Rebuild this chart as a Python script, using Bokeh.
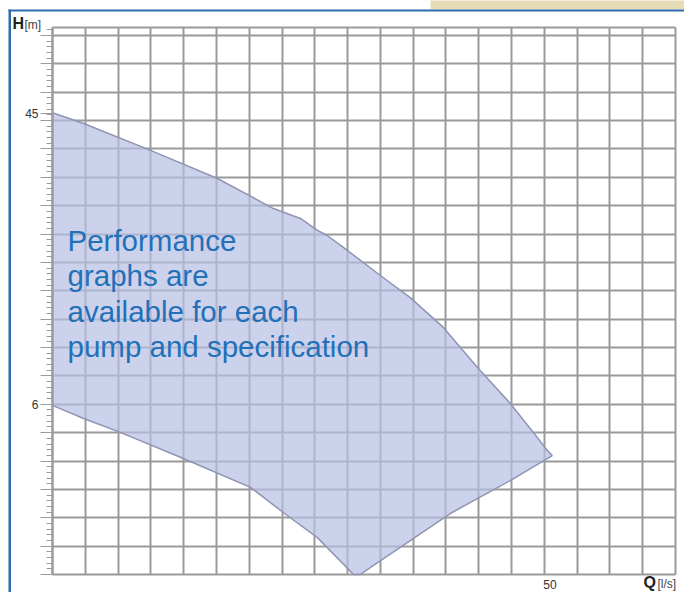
from bokeh.plotting import figure
from bokeh.models import Range1d, FixedTicker, Label, BoxAnnotation
from bokeh.embed import file_html
from bokeh.resources import INLINE

# ---- data (grid units: one unit = one grid cell) ----
upper_q = [0.0, 0.95, 2.99, 5.03, 6.74, 7.56, 8.08, 8.38, 8.87, 10.0, 10.91, 11.92, 12.96, 13.96, 14.67, 15.09, 15.24]
upper_h = [16.28, 15.90, 14.95, 13.96, 12.90, 12.55, 12.13, 11.95, 11.53, 10.54, 9.76, 8.71, 7.30, 6.03, 5.00, 4.37, 4.19]
right_q = [13.96, 12.13, 9.70, 9.39]
right_h = [3.31, 2.15, 0.25, 0.0]
lower_q = [0.0, 0.95, 2.07, 3.99, 6.04, 7.16, 8.08, 9.18]
lower_h = [5.96, 5.50, 5.01, 4.09, 3.07, 2.08, 1.30, 0.0]

grid_q = list(range(0, 20))
grid_h = list(range(0, 20))
top_h = 19.282
y_tick_pos = [6, 16.25]
y_tick_labels = ["6", "45"]
x_tick_pos = [15.17]
x_tick_labels = ["50"]
note_lines = ["Performance", "graphs are", "available for each", "pump and specification"]

GRID = "#9a9a9a"
BLUE = "#2f6cae"
PX_X = 32.79   # pixels per grid unit (x)
PX_Y = 28.368  # pixels per grid unit (y)

p = figure(width=684, height=592, output_backend="svg", toolbar_location=None,
           x_range=Range1d(-52 / PX_X, (684 - 52) / PX_X),
           y_range=Range1d(-18 / PX_Y, 574 / PX_Y),
           min_border=0)
p.background_fill_color = "white"
p.border_fill_color = "white"
p.outline_line_color = None

# grid
p.xgrid.ticker = FixedTicker(ticks=grid_q)
p.xgrid.cross_bounds = (0, top_h)
p.ygrid.ticker = FixedTicker(ticks=grid_h + [top_h])
p.ygrid.cross_bounds = (0, 19)
for g in (p.xgrid, p.ygrid):
    g.grid_line_color = GRID
    g.grid_line_width = 2

xs = upper_q + right_q + lower_q[::-1]
ys = upper_h + right_h + lower_h[::-1]
p.patch(xs, ys, fill_color="#b8bfe4", fill_alpha=0.7, line_color="#8e94b2", line_width=1.5)

# y axis
minor = [i * 0.2 for i in range(0, 97)]
p.yaxis.fixed_location = 0
p.yaxis.bounds = (0, top_h)
p.yaxis.ticker = FixedTicker(ticks=grid_h + [16.25], minor_ticks=minor)
ov = {t: "" for t in grid_h}
ov.update(dict(zip(y_tick_pos, y_tick_labels)))
p.yaxis.major_label_overrides = ov
p.yaxis.axis_line_color = GRID
p.yaxis.axis_line_width = 2
p.yaxis.major_tick_line_color = GRID
p.yaxis.minor_tick_line_color = GRID
p.yaxis.major_tick_out = 12
p.yaxis.major_tick_in = 0
p.yaxis.minor_tick_out = 6
p.yaxis.minor_tick_in = 0
p.yaxis.major_label_standoff = 2
p.yaxis.major_label_text_font = "Liberation Sans"
p.yaxis.major_label_text_font_size = "12px"
p.yaxis.major_label_text_color = "#333333"

# x axis
p.xaxis.fixed_location = 0
p.xaxis.bounds = (0, 19)
p.xaxis.ticker = FixedTicker(ticks=x_tick_pos)
p.xaxis.major_label_overrides = dict(zip(x_tick_pos, x_tick_labels))
p.xaxis.axis_line_color = None
p.xaxis.major_tick_line_color = None
p.xaxis.minor_tick_line_color = None
p.xaxis.major_tick_out = 0
p.xaxis.major_label_standoff = 5
p.xaxis.major_label_text_font = "Liberation Sans"
p.xaxis.major_label_text_font_size = "12px"
p.xaxis.major_label_text_color = "#333333"

# decorations: blue frame and photo strip at the top
p.add_layout(BoxAnnotation(left=(430 - 52) / PX_X, right=20, bottom=(574 - 9) / PX_Y, top=21,
                           fill_color="#e8dcb8", fill_alpha=1, line_color=None))
p.add_layout(BoxAnnotation(left=(8 - 52) / PX_X, right=(10.5 - 52) / PX_X, bottom=-1,
                           top=(574 - 9) / PX_Y, fill_color=BLUE, fill_alpha=1, line_color=None))
p.add_layout(BoxAnnotation(left=(8 - 52) / PX_X, right=20, bottom=(574 - 11) / PX_Y,
                           top=(574 - 9) / PX_Y, fill_color=BLUE, fill_alpha=1, line_color=None))

# texts: px = left edge, base = wanted baseline (pixels); anchored on the text box middle
def lab(px, base, text, size, bold=False, color="#444444"):
    mid = base - 0.3465 * size
    p.add_layout(Label(x=(px - 52) / PX_X, y=(574 - mid) / PX_Y, text=text, text_font="Liberation Sans",
                       text_font_style="bold" if bold else "normal", text_font_size=f"{size}px",
                       text_color=color, text_baseline="middle"))

lab(12, 29, "H", 16, True, "#222222")
lab(24, 29, "[m]", 12)
lab(643, 588, "Q", 16, True, "#222222")
lab(657, 588, "[l/s]", 12)

# note text
for i, line in enumerate(note_lines):
    lab(67, 250 + 35.5 * i, line, 29.5, False, "#2270b8")

open("out.html", "w").write(file_html(p, INLINE))
